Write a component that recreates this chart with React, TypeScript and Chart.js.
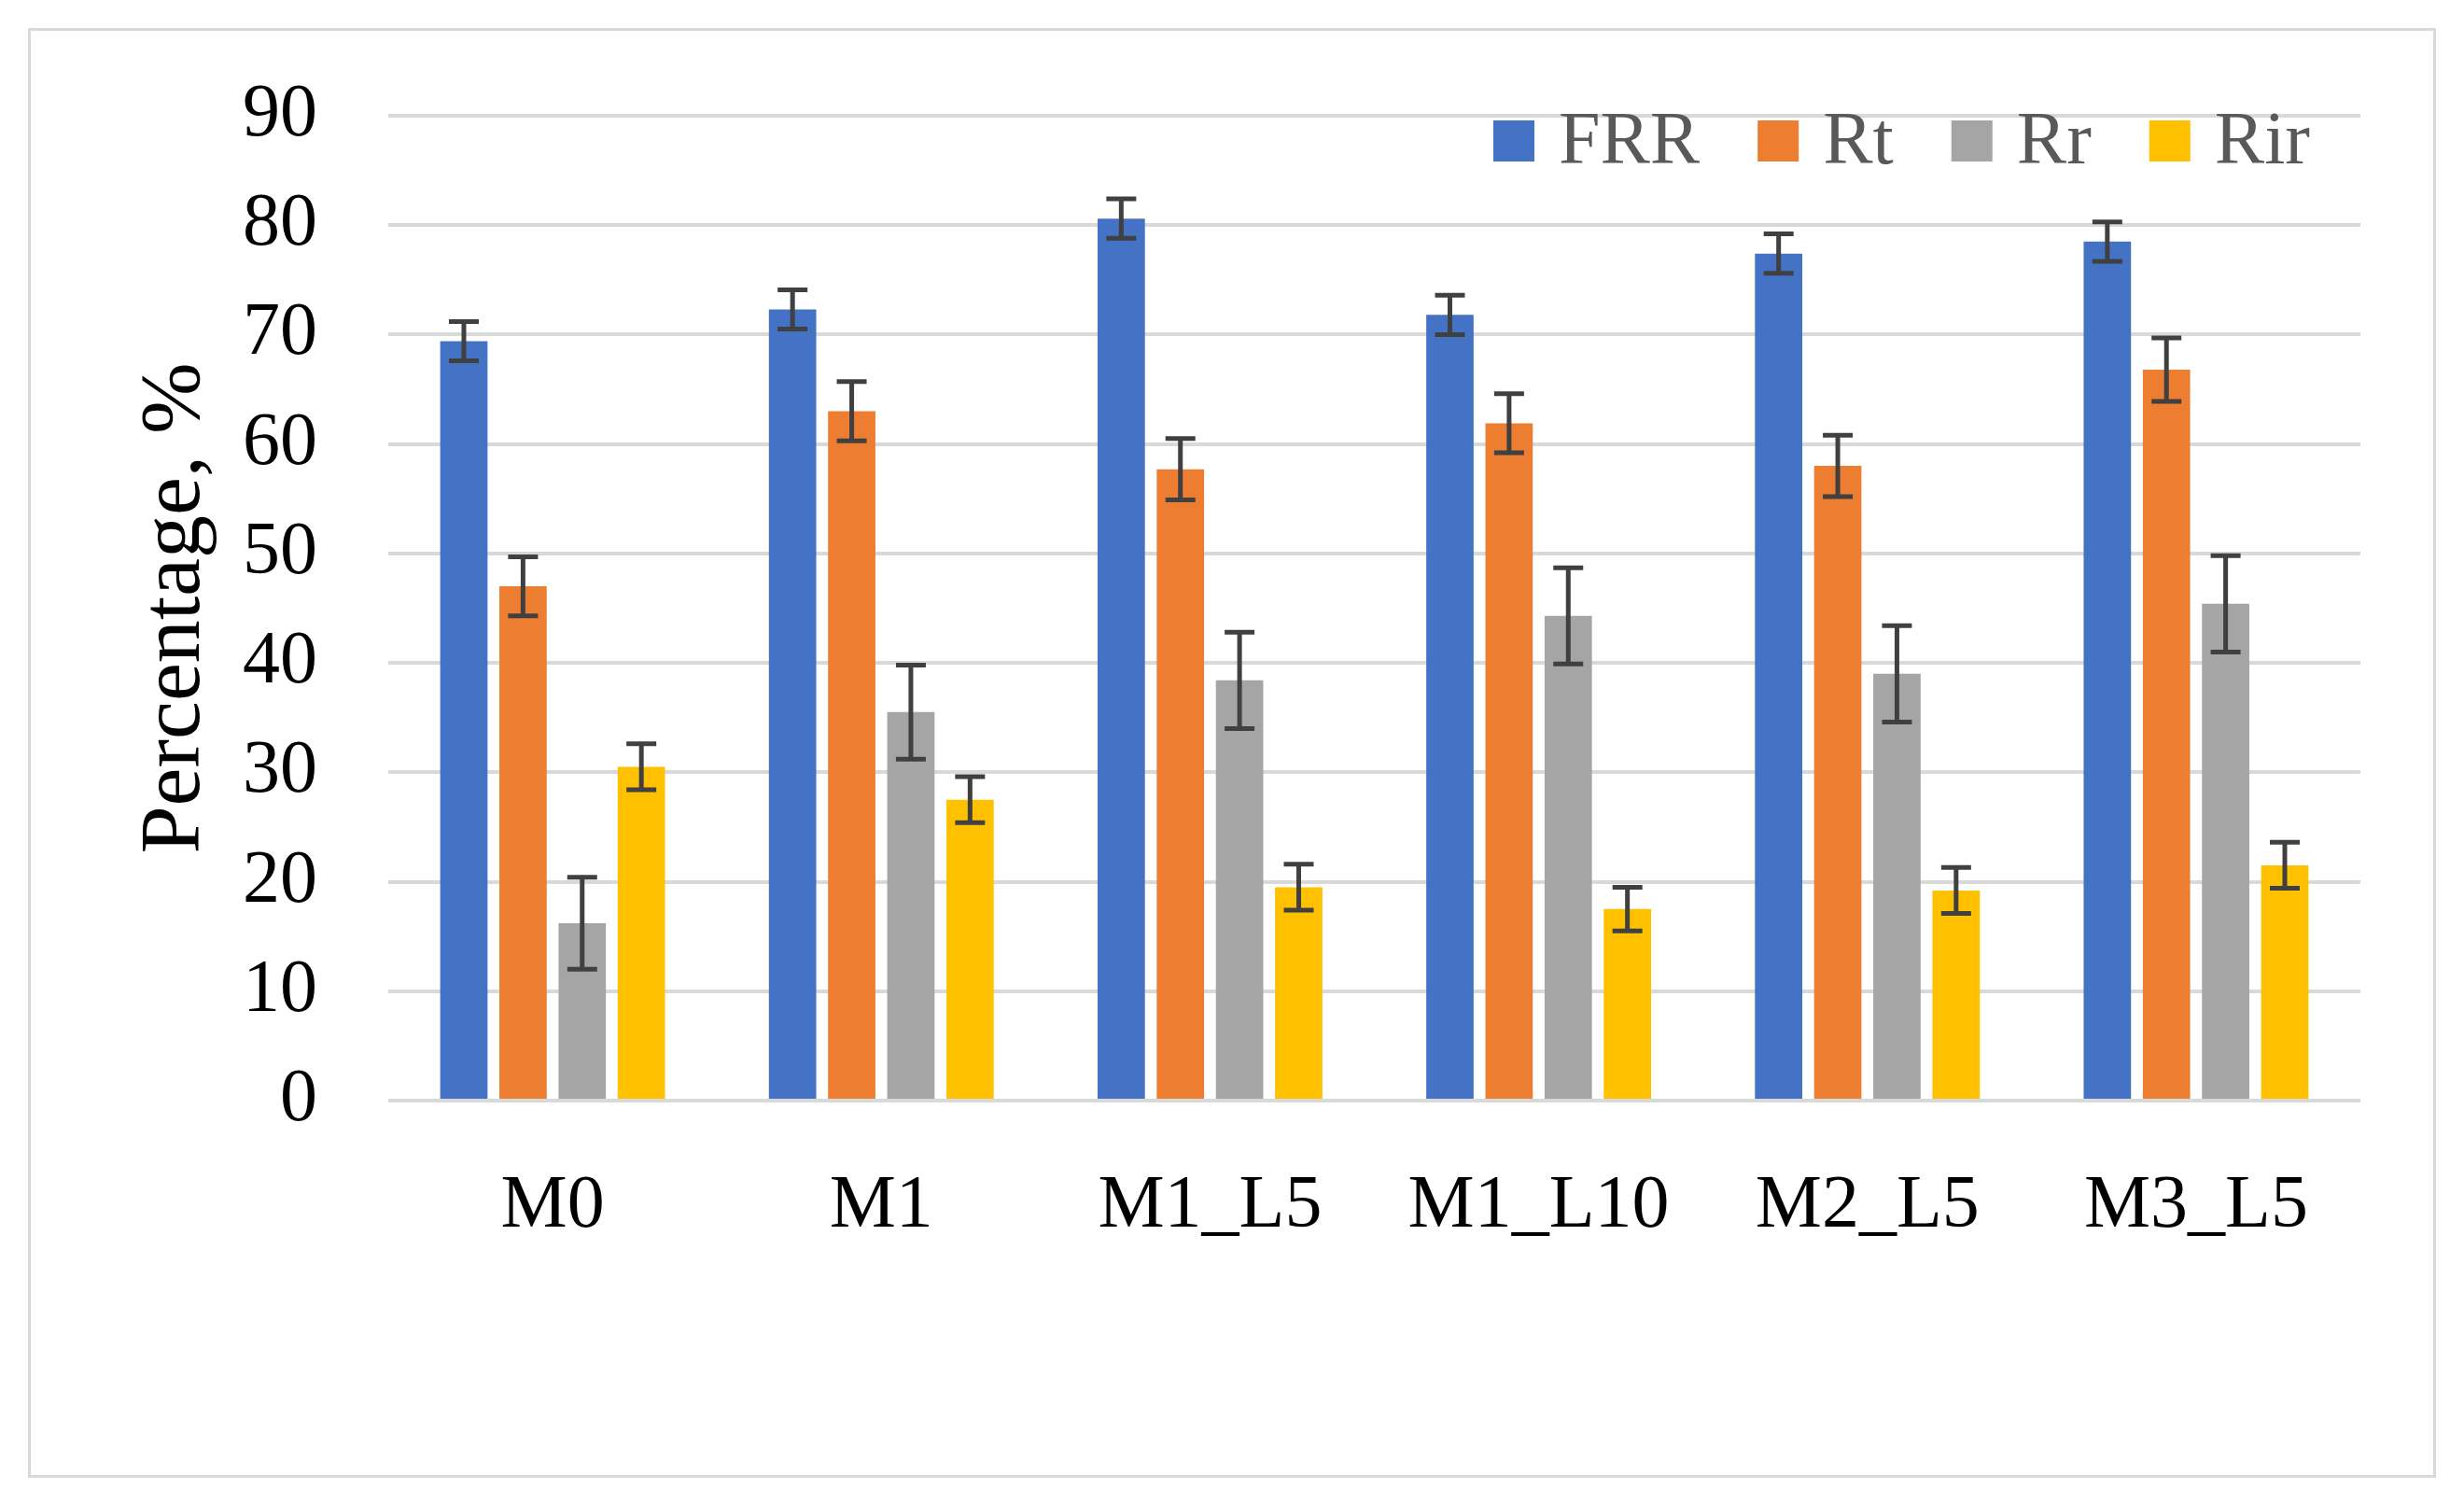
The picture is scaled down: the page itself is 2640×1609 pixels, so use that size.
import React, { useEffect, useRef } from "react";
import { Chart, registerables } from "chart.js";

Chart.register(...registerables);

const categories = ["M0", "M1", "M1_L5", "M1_L10", "M2_L5", "M3_L5"];
const seriesNames = ["FRR", "Rt", "Rr", "Rir"];
const seriesColors = ["#4472C4", "#ED7D31", "#A5A5A5", "#FFC000"];

const frrValues = [69.4, 72.3, 80.6, 71.8, 77.4, 78.5];
const rtValues = [47.0, 63.0, 57.7, 61.9, 58.0, 66.8];
const rrValues = [16.2, 35.5, 38.4, 44.3, 39.0, 45.4];
const rirValues = [30.5, 27.5, 19.5, 17.5, 19.2, 21.5];

const frrErrors = [1.8, 1.8, 1.8, 1.8, 1.8, 1.8];
const rtErrors = [2.7, 2.7, 2.8, 2.7, 2.8, 2.9];
const rrErrors = [4.2, 4.3, 4.4, 4.4, 4.4, 4.4];
const rirErrors = [2.1, 2.1, 2.1, 2.0, 2.1, 2.1];

const yTicks = [0, 10, 20, 30, 40, 50, 60, 70, 80, 90];

const FONT = "'Liberation Serif', 'Times New Roman', serif";

export default function App() {
  const ref = useRef<HTMLCanvasElement | null>(null);

  useEffect(() => {
    document.body.style.margin = "0";
    const canvas = ref.current;
    if (!canvas) return;

    const values = [frrValues, rtValues, rrValues, rirValues];
    const errors = [frrErrors, rtErrors, rrErrors, rirErrors];

    const errorBarPlugin = {
      id: "errorBars",
      afterDatasetsDraw(chart: any) {
        const ctx = chart.ctx;
        const yScale = chart.scales.y;
        ctx.save();
        ctx.strokeStyle = "#404040";
        ctx.lineWidth = 5;
        chart.data.datasets.forEach((ds: any, di: number) => {
          const meta = chart.getDatasetMeta(di);
          meta.data.forEach((bar: any, i: number) => {
            const v = ds.data[i];
            const e = ds.errors[i];
            const yTop = yScale.getPixelForValue(v + e);
            const yBot = yScale.getPixelForValue(v - e);
            const x = bar.x;
            const cap = 16;
            ctx.beginPath();
            ctx.moveTo(x, yTop);
            ctx.lineTo(x, yBot);
            ctx.moveTo(x - cap, yTop);
            ctx.lineTo(x + cap, yTop);
            ctx.moveTo(x - cap, yBot);
            ctx.lineTo(x + cap, yBot);
            ctx.stroke();
          });
        });
        ctx.restore();
      },
    };

    const legendPlugin = {
      id: "customLegend",
      afterDraw(chart: any) {
        const ctx = chart.ctx;
        const area = chart.chartArea;
        ctx.save();
        ctx.font = `80px ${FONT}`;
        ctx.textBaseline = "middle";
        const box = 44;
        const gapBoxText = 26;
        const gapItems = 62;
        const items = chart.data.datasets.map((ds: any) => ({
          label: ds.label,
          color: ds.backgroundColor,
          w: ctx.measureText(ds.label).width,
        }));
        let total = 0;
        items.forEach((it: any, i: number) => {
          total += box + gapBoxText + it.w + (i < items.length - 1 ? gapItems : 0);
        });
        let x = area.right - 54 - total;
        const cy = area.top + 27;
        items.forEach((it: any) => {
          ctx.fillStyle = it.color;
          ctx.fillRect(x, cy - box / 2, box, box);
          x += box + gapBoxText;
          ctx.fillStyle = "#595959";
          ctx.fillText(it.label, x, cy + 3);
          x += it.w + gapItems;
        });
        ctx.restore();
      },
    };

    const chart = new Chart(canvas, {
      type: "bar",
      data: {
        labels: categories,
        datasets: seriesNames.map((name, i) => ({
          label: name,
          data: values[i],
          errors: errors[i],
          backgroundColor: seriesColors[i],
          borderWidth: 0,
          barPercentage: 0.8,
          categoryPercentage: 0.72,
        })) as any,
      },
      options: {
        animation: false,
        responsive: false,
        maintainAspectRatio: false,
        devicePixelRatio: 1,
        layout: { padding: { top: 121, right: 111, bottom: 0, left: 134 } },
        plugins: {
          legend: { display: false },
          tooltip: { enabled: false },
        },
        scales: {
          x: {
            grid: { display: false, drawTicks: false },
            border: { display: false },
            ticks: {
              color: "#000000",
              font: { family: FONT, size: 80 },
              padding: 66,
            },
            afterFit: (scale: any) => {
              scale.height = 1609 - 1179;
            },
          },
          y: {
            min: 0,
            max: 90,
            afterBuildTicks: (scale: any) => {
              scale.ticks = yTicks.map((v) => ({ value: v }));
            },
            grid: { color: "#D9D9D9", lineWidth: 4, drawTicks: false },
            border: { display: false },
            ticks: {
              color: "#000000",
              font: { family: FONT, size: 80 },
              padding: 76,
            },
            title: {
              display: true,
              text: "Percentage, %",
              color: "#000000",
              font: { family: FONT, size: 92 },
              padding: { top: 0, bottom: 0 },
            },
            afterFit: (scale: any) => {
              scale.width = 416 - 134;
            },
          },
        },
      },
      plugins: [errorBarPlugin, legendPlugin],
    });

    return () => chart.destroy();
  }, []);

  return (
    <div style={{ position: "relative", width: 2640, height: 1609, background: "#ffffff" }}>
      <canvas ref={ref} width={2640} height={1609} style={{ position: "absolute", left: 0, top: 0, width: 2640, height: 1609 }} />
      <div
        style={{
          position: "absolute",
          left: 30,
          top: 30,
          width: 2580,
          height: 1553,
          border: "3px solid #D9D9D9",
          boxSizing: "border-box",
          pointerEvents: "none",
        }}
      />
    </div>
  );
}
